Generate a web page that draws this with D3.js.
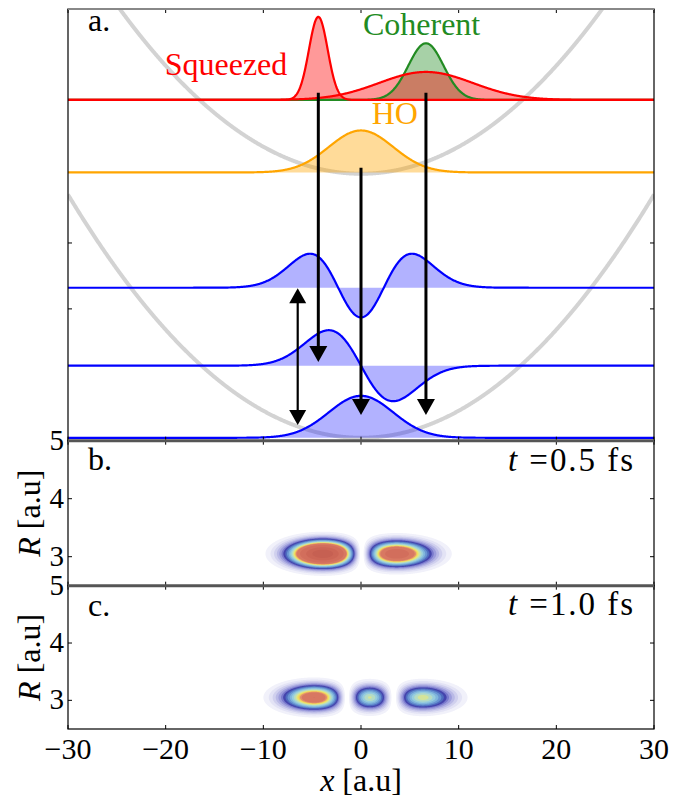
<!DOCTYPE html>
<html><head><meta charset="utf-8">
<script src="https://cdn.jsdelivr.net/npm/d3@7"></script>
<style>
body{margin:0;background:#fff}
svg{display:block}
text{font-family:"Liberation Serif","DejaVu Serif",serif;fill:#000}
</style>
</head><body>
<svg id="chart" width="689" height="800"></svg>
<script>
// ---------------- data ----------------
const xTicks = [-30, -20, -10, 0, 10, 20, 30];
const xTickLabels = ["\u221230", "\u221220", "\u221210", "0", "10", "20", "30"];
const rTicks = [3, 4, 5];
const aTicks = [2, 3];               // unlabeled ticks in panel a

// panel a: wave packets (gaussians) above their baselines
const packetNames  = ["Squeezed", "Squeezed-broad", "Coherent", "HO"];
const packetCenter = [-4.37, 6.65, 6.65, 0];
const packetSigma  = [0.96, 4.8, 1.8, 3.3];
const packetHeight = [1.26, 0.425, 0.86, 0.637];
const packetBase   = [5.17, 5.17, 5.17, 4.07];
const packetColor  = ["#ff0000", "#ff0000", "#228b22", "#ffa500"];
const packetOrder  = [2, 1, 0, 3];   // drawing order

// panel a: harmonic oscillator eigenstates n = 2, 1, 0
const levelN     = [2, 1, 0];
const levelBase  = [2.321, 1.138, 0.044];
const levelScale = [0.45, 0.888, 0.637];
const hoWidth    = 3.3;

// panel a: grey potentials (vertex height, curvature)
const potVertex = [4.05, 0.044];
const potCurv   = [0.0041, 0.0041];

// panel a: arrows (x, y start, y tip)
const arrowX     = [-4.37, 0, 6.65];
const arrowStart = [5.28, 4.14, 5.28];
const arrowTip   = [1.194, 0.39, 0.39];
const dArrowX    = -6.48;
const dArrowEnds = [2.312, 0.238];

// labels
const labelText  = ["Squeezed", "Coherent", "HO"];
const labelX     = [-20.1, 0.2, 1.1];
const labelY     = [5.55, 6.16, 4.8];
const labelColor = ["#ff0000", "#228b22", "#ffa500"];

// panels b and c: density lobes (x centre, width, peak)
const lobeCenterB = [-3.8, 3.5];
const lobeSigmaB  = [1.8, 1.85];
const lobePeakB   = [1.0, 0.54];
const lobeCenterC = [-4.7, 0.85, 6.2];
const lobeSigmaC  = [1.74, 1.35, 1.65];
const lobePeakC   = [0.41, 0.3, 0.235];
const rCenter = 3.05, rSigma = 0.115;
const timeLabels = ["0.5", "1.0"];

// contour levels and colours
const levelValues = [0.004,0.01,0.018,0.028,0.04,0.055,0.07,0.09,0.11,0.135,0.16,0.185,0.21,0.235,0.255,0.275,0.3,0.4,0.6,0.8];
const levelColors = ["#f1f1fa","#e3e3f5","#d0d0ee","#b9b9e6","#9d9ddc","#7a7acd","#4545ad","#4f6cbf","#6894d2","#80b6dc","#98cddd","#b5dcc4","#d4e49a","#f0e460","#f2c35e","#e2906a","#d87862","#d26e5c","#cc6656","#c66052"];

// ---------------- layout ----------------
const svg = d3.select("#chart");
const X0 = 68, X1 = 654;
const x  = d3.scaleLinear().domain([-30, 30]).range([X0, X1]);
const yA = d3.scaleLinear().domain([0, 6.55]).range([440.7, 9]);
const yB = d3.scaleLinear().domain([2.5, 5]).range([585.7, 440.7]);
const yC = d3.scaleLinear().domain([2.5, 5]).range([729, 585.7]);

svg.append("defs").append("clipPath").attr("id", "clipA")
  .append("rect").attr("x", X0).attr("y", 9).attr("width", X1 - X0).attr("height", 440.7 - 9);

const xs = d3.range(-30, 30.0001, 0.05);
const gauss = (xv, c, s) => Math.exp(-(xv - c) * (xv - c) / (2 * s * s));
function eigen(n, xv) {
  const u = xv / hoWidth;
  let h;
  if (n === 0) h = 1;
  else if (n === 1) h = -u;
  else h = 2 * u * u - 1;
  return h * Math.exp(-u * u / 2);
}

const gA = svg.append("g").attr("clip-path", "url(#clipA)");

// grey potentials
potVertex.forEach((v, i) => {
  gA.append("path")
    .attr("d", d3.line().x(d => x(d)).y(d => yA(v + potCurv[i] * d * d))(xs))
    .attr("fill", "none").attr("stroke", "#d3d3d3").attr("stroke-width", 4);
});

// packet fills
packetOrder.forEach(i => {
  const area = d3.area().x(d => x(d)).y0(yA(packetBase[i]))
    .y1(d => yA(packetBase[i] + packetHeight[i] * gauss(d, packetCenter[i], packetSigma[i])));
  gA.append("path").attr("d", area(xs)).attr("fill", packetColor[i]).attr("fill-opacity", 0.4);
});
// eigenstate fills
levelN.forEach((n, i) => {
  const area = d3.area().x(d => x(d)).y0(yA(levelBase[i]))
    .y1(d => yA(levelBase[i] + levelScale[i] * eigen(n, d)));
  gA.append("path").attr("d", area(xs)).attr("fill", "#0000ff").attr("fill-opacity", 0.3);
});
// packet lines
packetOrder.forEach(i => {
  const line = d3.line().x(d => x(d))
    .y(d => yA(packetBase[i] + packetHeight[i] * gauss(d, packetCenter[i], packetSigma[i])));
  gA.append("path").attr("d", line(xs)).attr("fill", "none")
    .attr("stroke", packetColor[i]).attr("stroke-width", 2.2);
});
levelN.forEach((n, i) => {
  const line = d3.line().x(d => x(d)).y(d => yA(levelBase[i] + levelScale[i] * eigen(n, d)));
  gA.append("path").attr("d", line(xs)).attr("fill", "none")
    .attr("stroke", "#0000ff").attr("stroke-width", 2.2);
});

// arrows
function headDown(px, tipY, w, h) {
  return `M${px - w / 2},${tipY - h}L${px + w / 2},${tipY - h}L${px},${tipY}Z`;
}
function headUp(px, tipY, w, h) {
  return `M${px - w / 2},${tipY + h}L${px + w / 2},${tipY + h}L${px},${tipY}Z`;
}
arrowX.forEach((ax, i) => {
  const px = x(ax);
  gA.append("line").attr("x1", px).attr("x2", px)
    .attr("y1", yA(arrowStart[i])).attr("y2", yA(arrowTip[i]) - 12)
    .attr("stroke", "#000").attr("stroke-width", 3);
  gA.append("path").attr("d", headDown(px, yA(arrowTip[i]), 18, 16)).attr("fill", "#000");
});
{
  const px = x(dArrowX);
  gA.append("line").attr("x1", px).attr("x2", px)
    .attr("y1", yA(dArrowEnds[0]) + 12).attr("y2", yA(dArrowEnds[1]) - 12)
    .attr("stroke", "#000").attr("stroke-width", 2.2);
  gA.append("path").attr("d", headUp(px, yA(dArrowEnds[0]), 17, 15)).attr("fill", "#000");
  gA.append("path").attr("d", headDown(px, yA(dArrowEnds[1]), 17, 15)).attr("fill", "#000");
}

// labels panel a
labelText.forEach((t, i) => {
  svg.append("text").attr("x", x(labelX[i])).attr("y", yA(labelY[i]))
    .attr("font-size", 32).style("fill", labelColor[i]).text(t);
});

// ---------------- panels b, c ----------------
const rMin = 2.55, rMax = 3.55, dR = 0.01;
const gx0 = -13, gx1 = 13, dX = 0.05;
const nx = Math.round((gx1 - gx0) / dX) + 1;
const ny = Math.round((rMax - rMin) / dR) + 1;

function density(centers, sigmas, peaks) {
  const vals = new Array(nx * ny);
  for (let j = 0; j < ny; j++) {
    const R = rMin + j * dR;
    const fr = Math.exp(-(R - rCenter) * (R - rCenter) / (2 * rSigma * rSigma));
    for (let i = 0; i < nx; i++) {
      const xv = gx0 + i * dX;
      let phi = 0;
      centers.forEach((c, k) => {
        const sgn = k % 2 === 0 ? 1 : -1;
        phi += sgn * Math.sqrt(peaks[k]) * Math.exp(-(xv - c) * (xv - c) / (4 * sigmas[k] * sigmas[k]));
      });
      vals[j * nx + i] = phi * phi * fr;
    }
  }
  return vals;
}

function drawDensity(yScale, vals) {
  const proj = d3.geoTransform({
    point: function(px, py) {
      this.stream.point(x(gx0 + (px - 0.5) * dX), yScale(rMin + (py - 0.5) * dR));
    }
  });
  const path = d3.geoPath(proj);
  const contours = d3.contours().size([nx, ny]).thresholds(levelValues)(vals);
  svg.append("g").selectAll("path").data(contours).join("path")
    .attr("d", path)
    .attr("fill", d => levelColors[levelValues.indexOf(d.value)]);
}
drawDensity(yB, density(lobeCenterB, lobeSigmaB, lobePeakB));
drawDensity(yC, density(lobeCenterC, lobeSigmaC, lobePeakC));

// ---------------- axes / frames ----------------
function frame(y0, y1) {
  svg.append("rect").attr("x", X0).attr("y", y0).attr("width", X1 - X0).attr("height", y1 - y0)
    .attr("fill", "none").attr("stroke", "#000").attr("stroke-width", 1.2);
}
frame(9, 440.7); frame(440.7, 585.7); frame(585.7, 729);

function xTickMarks(yTop, yBot) {
  xTicks.forEach(t => {
    svg.append("line").attr("x1", x(t)).attr("x2", x(t)).attr("y1", yTop).attr("y2", yTop + 4)
      .attr("stroke", "#000").attr("stroke-width", 1);
    svg.append("line").attr("x1", x(t)).attr("x2", x(t)).attr("y1", yBot).attr("y2", yBot - 4)
      .attr("stroke", "#000").attr("stroke-width", 1);
  });
}
xTickMarks(9, 440.7); xTickMarks(440.7, 585.7); xTickMarks(585.7, 729);

function yTickMarks(scale, ticks) {
  ticks.forEach(t => {
    svg.append("line").attr("x1", X0).attr("x2", X0 + 4).attr("y1", scale(t)).attr("y2", scale(t))
      .attr("stroke", "#000").attr("stroke-width", 1);
    svg.append("line").attr("x1", X1).attr("x2", X1 - 4).attr("y1", scale(t)).attr("y2", scale(t))
      .attr("stroke", "#000").attr("stroke-width", 1);
  });
}
yTickMarks(yA, aTicks); yTickMarks(yB, rTicks); yTickMarks(yC, rTicks);

// grey separators
svg.append("line").attr("x1", X0).attr("x2", X1).attr("y1", 9).attr("y2", 9)
  .attr("stroke", "#888").attr("stroke-width", 2);
[440.7, 585.7].forEach(yv => svg.append("line").attr("x1", X0).attr("x2", X1).attr("y1", yv).attr("y2", yv)
  .attr("stroke", "#555").attr("stroke-width", 3));

// y tick labels
[yB, yC].forEach(sc => {
  rTicks.forEach(t => {
    svg.append("text").attr("x", 64).attr("y", sc(t) + 9).attr("text-anchor", "end")
      .attr("font-size", 29).text(t);
  });
});
// x tick labels
xTicks.forEach((t, i) => {
  svg.append("text").attr("x", x(t)).attr("y", 759).attr("text-anchor", "middle")
    .attr("font-size", 30).text(xTickLabels[i]);
});
// axis labels
const xl = svg.append("text").attr("x", x(0)).attr("y", 791).attr("text-anchor", "middle").attr("font-size", 32);
xl.append("tspan").attr("font-style", "italic").text("x");
xl.append("tspan").text(" [a.u]");
[yB, yC].forEach(sc => {
  const cy = (sc(2.5) + sc(5)) / 2;
  const t = svg.append("text").attr("transform", `translate(40,${cy}) rotate(-90)`)
    .attr("text-anchor", "middle").attr("font-size", 32);
  t.append("tspan").attr("font-style", "italic").text("R");
  t.append("tspan").text(" [a.u]");
});

// panel letters
svg.append("text").attr("x", 88).attr("y", 31).attr("font-size", 32).text("a.");
svg.append("text").attr("x", 88).attr("y", 470).attr("font-size", 32).text("b.");
svg.append("text").attr("x", 88).attr("y", 616).attr("font-size", 32).text("c.");
// time labels
[471, 615].forEach((yy, i) => {
  const t = svg.append("text").attr("x", 508).attr("y", yy).attr("font-size", 33)
    .attr("textLength", 125).attr("lengthAdjust", "spacing");
  t.append("tspan").attr("font-style", "italic").text("t");
  t.append("tspan").text(" =" + timeLabels[i] + " fs");
});
</script>
</body></html>
